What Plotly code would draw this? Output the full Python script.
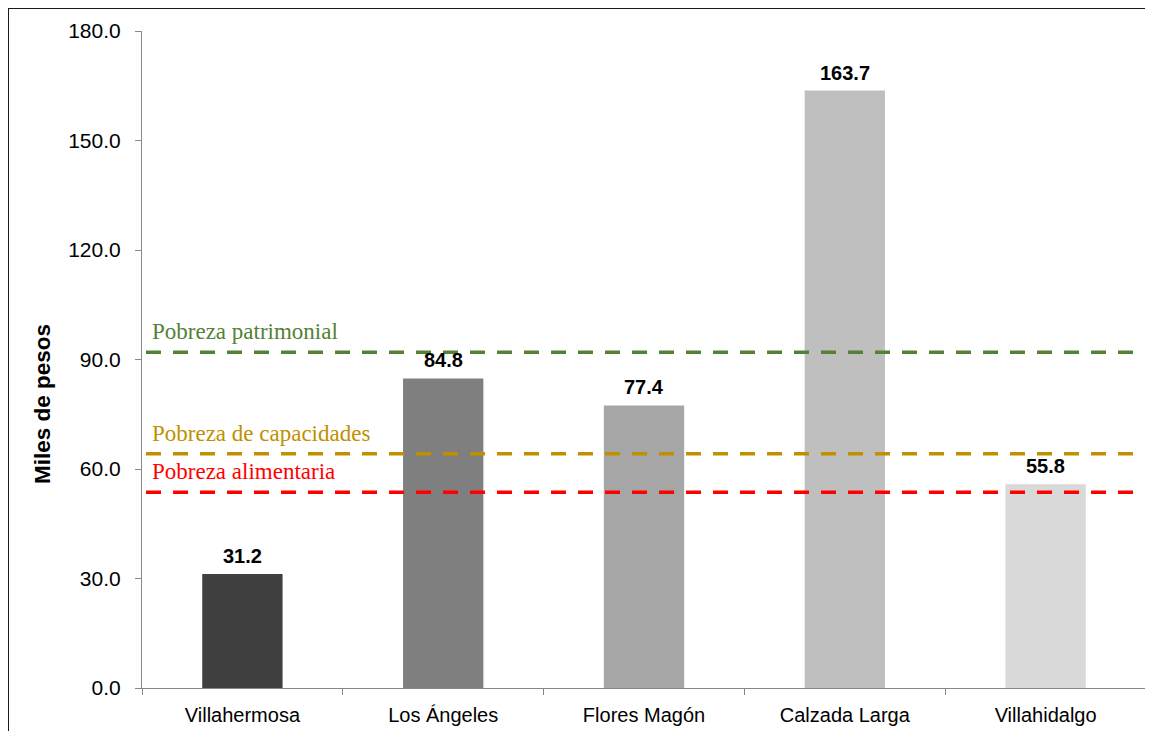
import plotly.graph_objects as go

categories = ["Villahermosa", "Los Ángeles", "Flores Magón", "Calzada Larga", "Villahidalgo"]
values = [31.2, 84.8, 77.4, 163.7, 55.8]
bar_colors = ["#404040", "#7f7f7f", "#a6a6a6", "#bfbfbf", "#d9d9d9"]

line_names = ["Pobreza patrimonial", "Pobreza de capacidades", "Pobreza alimentaria"]
line_values = [92.0, 64.2, 53.6]
line_colors = ["#538135", "#bf9000", "#ff0000"]
label_values = [97.8, 69.6, 59.2]

y_ticks = [0, 30, 60, 90, 120, 150, 180]

fig = go.Figure()
fig.add_trace(go.Bar(
    x=categories, y=values, width=0.4,
    marker=dict(color=bar_colors, line=dict(width=0)),
    hoverinfo="skip",
))

annotations = []
for c, v in zip(categories, values):
    annotations.append(dict(
        x=c, y=v, xref="x", yref="y", text=f"<b>{v:.1f}</b>",
        showarrow=False, yanchor="bottom", yshift=5,
        font=dict(family="Liberation Sans, Arial", size=20, color="#000000"),
    ))

shapes = []
for name, lv, col, ly in zip(line_names, line_values, line_colors, label_values):
    shapes.append(dict(
        type="line", xref="paper", yref="y", x0=0.004, x1=1.01, y0=lv, y1=lv,
        line=dict(color=col, width=3.5, dash="15px,12px"), layer="above",
    ))
    annotations.append(dict(
        x=0.008, y=ly, xref="paper", yref="y", text=name, showarrow=False,
        xanchor="left", yanchor="middle",
        font=dict(family="Liberation Serif, Times New Roman", size=23, color=col),
    ))

# outer frame
shapes.append(dict(
    type="rect", xref="paper", yref="paper",
    x0=(8 - 142) / 1004, x1=1.05, y0=-0.2, y1=(688 - 8) / 657,
    line=dict(color="#1a1a1a", width=2), fillcolor="rgba(0,0,0,0)", layer="below",
))

annotations.append(dict(
    x=(42 - 142) / 1004, y=(688 - 404) / 657, xref="paper", yref="paper",
    text="<b>Miles de pesos</b>", textangle=-90, showarrow=False,
    xanchor="center", yanchor="middle",
    font=dict(family="Liberation Sans, Arial", size=22.5, color="#000000"),
))

fig.update_layout(
    width=1153, height=731,
    margin=dict(l=134, r=15, t=23, b=51),
    paper_bgcolor="white", plot_bgcolor="white",
    showlegend=False, bargap=0.6,
    shapes=shapes, annotations=annotations,
)
fig.update_xaxes(
    showline=True, linecolor="#888888", linewidth=1.2,
    ticks="outside", tickson="boundaries", ticklen=6, tickcolor="#888888",
    ticklabelstandoff=9,
    tickfont=dict(family="Liberation Sans, Arial", size=20, color="#000000"),
    showgrid=False, zeroline=False,
)
fig.update_yaxes(
    range=[0, 180], tickvals=y_ticks, ticktext=[f"{t:.1f}" for t in y_ticks],
    showline=True, linecolor="#888888", linewidth=1.2,
    ticks="outside", ticklen=6, tickcolor="#888888", ticklabelstandoff=10,
    tickfont=dict(family="Liberation Sans, Arial", size=21, color="#000000"),
    showgrid=False, zeroline=False,
)

fig.write_html("out.html")
